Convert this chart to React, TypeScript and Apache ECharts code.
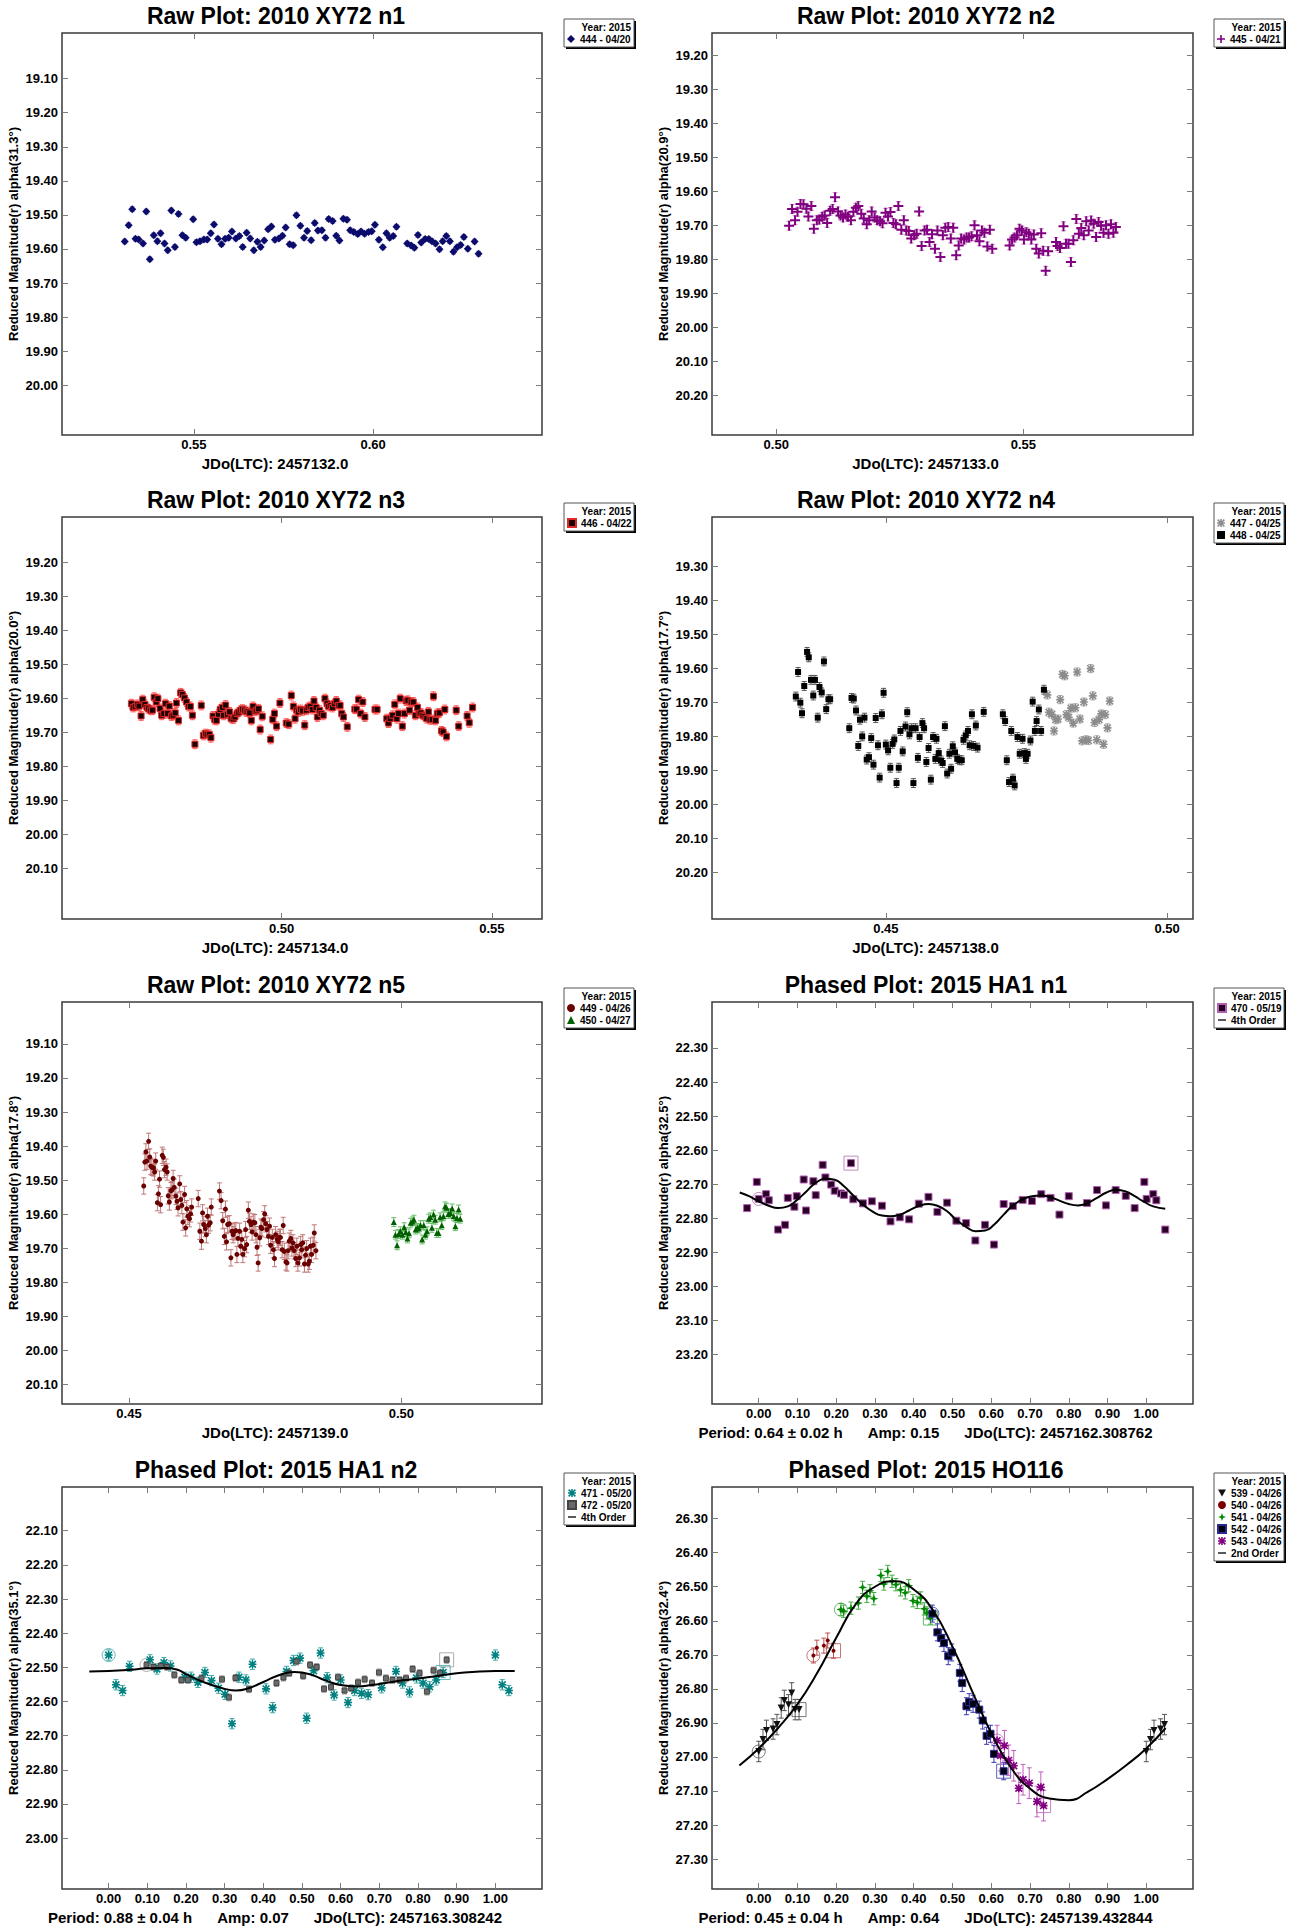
import React, { useEffect, useRef } from "react";
import * as echarts from "echarts";

const SANS = "'Liberation Sans', Arial, Helvetica, sans-serif";

// ---------------- axes (extents and tick labels) ----------------
const P1_X_RANGE = [0.5132, 0.6471];
const P1_Y_RANGE = [18.966, 20.146];
const P1_X_TICKS = [0.55, 0.6];
const P1_Y_TICKS = [19.1, 19.2, 19.3, 19.4, 19.5, 19.6, 19.7, 19.8, 19.9, 20.0];

const P2_X_RANGE = [0.487, 0.5843];
const P2_Y_RANGE = [19.134, 20.317];
const P2_X_TICKS = [0.5, 0.55];
const P2_Y_TICKS = [19.2, 19.3, 19.4, 19.5, 19.6, 19.7, 19.8, 19.9, 20.0, 20.1, 20.2];

const P3_X_RANGE = [0.4478, 0.5619];
const P3_Y_RANGE = [19.066, 20.248];
const P3_X_TICKS = [0.5, 0.55];
const P3_Y_TICKS = [19.2, 19.3, 19.4, 19.5, 19.6, 19.7, 19.8, 19.9, 20.0, 20.1];

const P4_X_RANGE = [0.4191, 0.5046];
const P4_Y_RANGE = [19.156, 20.336];
const P4_X_TICKS = [0.45, 0.5];
const P4_Y_TICKS = [19.3, 19.4, 19.5, 19.6, 19.7, 19.8, 19.9, 20.0, 20.1, 20.2];

const P5_X_RANGE = [0.4377, 0.5258];
const P5_Y_RANGE = [18.977, 20.157];
const P5_X_TICKS = [0.45, 0.5];
const P5_Y_TICKS = [19.1, 19.2, 19.3, 19.4, 19.5, 19.6, 19.7, 19.8, 19.9, 20.0, 20.1];

const PHASE_RANGE = [-0.1206, 1.1206];
const PHASE_TICKS = [0, 0.1, 0.2, 0.3, 0.4, 0.5, 0.6, 0.7, 0.8, 0.9, 1.0];

const P6_Y_RANGE = [22.165, 23.345];
const P6_Y_TICKS = [22.3, 22.4, 22.5, 22.6, 22.7, 22.8, 22.9, 23.0, 23.1, 23.2];

const P7_Y_RANGE = [21.972, 23.149];
const P7_Y_TICKS = [22.1, 22.2, 22.3, 22.4, 22.5, 22.6, 22.7, 22.8, 22.9, 23.0];

const P8_Y_RANGE = [26.207, 27.388];
const P8_Y_TICKS = [26.3, 26.4, 26.5, 26.6, 26.7, 26.8, 26.9, 27.0, 27.1, 27.2, 27.3];

// ---------------- Panel 1: 2010 XY72 n1 ----------------
const P1_X = [0.5307,0.5318,0.5328,0.5337,0.5346,0.5358,0.5367,0.5377,0.5388,0.5398,
0.5407,0.5418,0.5427,0.5437,0.5447,0.5457,0.5468,0.5477,0.5498,0.5507,
0.5517,0.5528,0.5537,0.5547,0.5556,0.5567,0.5577,0.5587,0.5597,0.5606,
0.5617,0.5627,0.5636,0.5647,0.5657,0.5667,0.5677,0.5686,0.5696,0.5707,
0.5716,0.5726,0.5737,0.5747,0.5756,0.5767,0.5777,0.5786,0.5797,0.5807,
0.5816,0.5827,0.5837,0.5846,0.5857,0.5867,0.5876,0.5887,0.5897,0.5906,
0.5917,0.5927,0.5936,0.5946,0.5957,0.5966,0.5976,0.5987,0.5996,0.6005,
0.6016,0.6027,0.6037,0.6046,0.6056,0.6065,0.6095,0.6106,0.6115,0.6125,
0.6134,0.6145,0.6155,0.6164,0.6174,0.6185,0.6194,0.6204,0.6214,0.6224,
0.6234,0.6244,0.6253,0.6264,0.6283,0.6294];
const P1_MAG = [19.578,19.530,19.483,19.570,19.572,19.584,19.490,19.630,19.560,19.577,
19.554,19.584,19.604,19.487,19.594,19.497,19.560,19.567,19.513,19.580,
19.577,19.572,19.572,19.554,19.528,19.570,19.586,19.570,19.567,19.549,
19.569,19.562,19.594,19.552,19.569,19.604,19.579,19.594,19.575,19.542,
19.534,19.573,19.569,19.561,19.537,19.586,19.589,19.501,19.532,19.567,
19.547,19.574,19.524,19.546,19.545,19.567,19.512,19.518,19.561,19.575,
19.511,19.514,19.545,19.550,19.556,19.549,19.555,19.550,19.548,19.529,
19.573,19.595,19.554,19.567,19.562,19.535,19.584,19.590,19.596,19.559,
19.581,19.571,19.571,19.577,19.584,19.601,19.577,19.562,19.577,19.608,
19.595,19.588,19.565,19.599,19.578,19.614];
const P1_ERR = 0.007;

// ---------------- Panel 2: 2010 XY72 n2 ----------------
const P2_X = [0.5026,0.5032,0.5038,0.5043,0.5049,0.5055,0.5061,0.5065,0.5071,0.5076,
0.5082,0.5087,0.5093,0.5098,0.5103,0.5109,0.5114,0.5119,0.5125,0.5130,
0.5135,0.5140,0.5145,0.5151,0.5156,0.5161,0.5166,0.5172,0.5177,0.5183,
0.5188,0.5193,0.5199,0.5204,0.5210,0.5215,0.5221,0.5226,0.5231,0.5237,
0.5242,0.5247,0.5253,0.5258,0.5263,0.5268,0.5273,0.5279,0.5284,0.5289,
0.5294,0.5300,0.5305,0.5310,0.5315,0.5321,0.5326,0.5332,0.5337,0.5342,
0.5348,0.5353,0.5358,0.5364,0.5369,0.5374,0.5380,0.5385,0.5390,0.5395,
0.5401,0.5406,0.5411,0.5416,0.5421,0.5427,0.5432,0.5437,
0.5472,0.5477,0.5482,0.5487,0.5492,0.5497,0.5501,0.5506,0.5511,0.5516,
0.5521,0.5526,0.5531,0.5536,0.5540,0.5545,0.5550,0.5566,0.5569,0.5574,
0.5581,0.5586,0.5591,0.5596,0.5601,0.5607,0.5612,0.5617,0.5622,0.5627,
0.5632,0.5637,0.5642,0.5647,0.5652,0.5657,0.5662,0.5667,0.5672,0.5677,0.5682,0.5687];
const P2_MAG = [19.701,19.652,19.685,19.660,19.637,19.638,19.651,19.674,19.643,19.710,
19.685,19.683,19.675,19.671,19.693,19.657,19.652,19.617,19.659,19.671,
19.677,19.668,19.675,19.685,19.660,19.648,19.643,19.666,19.680,19.697,
19.685,19.659,19.677,19.685,19.688,19.694,19.663,19.674,19.661,19.693,
19.697,19.643,19.713,19.685,19.715,19.717,19.739,19.729,19.725,19.659,
19.761,19.715,19.713,19.749,19.726,19.769,19.715,19.793,19.729,19.707,
19.705,19.739,19.707,19.788,19.759,19.739,19.742,19.736,19.736,19.732,
19.700,19.729,19.747,19.715,19.722,19.762,19.713,19.769,
19.759,19.742,19.736,19.729,19.710,19.715,19.742,19.720,19.725,19.742,
19.727,19.769,19.783,19.723,19.775,19.834,19.776,19.749,19.761,19.767,
19.703,19.754,19.754,19.808,19.744,19.681,19.725,19.708,19.729,19.688,
19.715,19.686,19.695,19.734,19.690,19.701,19.722,19.700,19.725,19.697,19.722,19.705];
const P2_ERR = 0.013;

// ---------------- Panel 3: 2010 XY72 n3 ----------------
const P3_X = [0.4643,0.4647,0.4652,0.4657,0.4661,0.4666,0.4670,0.4675,0.4680,0.4684,
0.4689,0.4693,0.4697,0.4702,0.4706,0.4711,0.4715,0.4720,0.4724,0.4729,
0.4733,0.4738,0.4742,0.4747,0.4750,0.4755,0.4760,0.4764,0.4769,0.4774,
0.4779,0.4783,0.4788,0.4794,0.4809,0.4814,0.4819,0.4823,0.4828,0.4832,
0.4837,0.4841,0.4845,0.4850,0.4854,0.4859,0.4862,0.4867,0.4871,0.4876,
0.4880,0.4885,0.4889,0.4894,0.4898,0.4903,0.4907,0.4912,0.4916,0.4920,
0.4924,0.4928,0.4932,0.4937,0.4941,0.4945,0.4949,0.4954,0.4974,0.4979,
0.4983,0.4988,0.4996,0.5011,0.5017,0.5023,0.5028,0.5032,0.5036,0.5040,
0.5045,0.5050,0.5055,0.5059,0.5063,0.5068,0.5073,0.5077,0.5082,0.5085,
0.5090,0.5094,0.5099,0.5103,0.5108,0.5112,0.5117,0.5121,0.5126,0.5130,
0.5135,0.5139,0.5143,0.5147,0.5156,0.5174,0.5178,0.5183,0.5188,0.5193,
0.5198,0.5222,0.5227,0.5250,0.5254,0.5258,0.5264,0.5269,0.5274,0.5278,
0.5282,0.5287,0.5292,0.5296,0.5300,0.5304,0.5308,0.5313,0.5318,0.5323,
0.5327,0.5331,0.5336,0.5341,0.5345,0.5349,0.5353,0.5358,0.5361,0.5366,
0.5370,0.5375,0.5380,0.5384,0.5388,0.5392,0.5415,0.5421,0.5441,0.5446,0.5454];
const P3_MAG = [19.615,19.626,19.623,19.617,19.622,19.651,19.603,19.617,19.626,19.630,
19.634,19.634,19.596,19.610,19.600,19.629,19.649,19.644,19.615,19.644,
19.622,19.651,19.649,19.642,19.613,19.664,19.583,19.588,19.598,19.610,
19.623,19.623,19.649,19.734,19.620,19.708,19.703,19.705,19.705,19.715,
19.651,19.662,19.664,19.646,19.632,19.626,19.649,19.619,19.646,19.639,
19.658,19.660,19.654,19.644,19.640,19.634,19.631,19.634,19.639,19.638,
19.642,19.664,19.623,19.637,19.634,19.630,19.691,19.652,19.720,19.661,
19.644,19.681,19.613,19.672,19.675,19.591,19.623,19.659,19.634,19.639,
19.632,19.636,19.678,19.634,19.626,19.623,19.632,19.607,19.626,19.654,
19.634,19.644,19.649,19.600,19.615,19.623,19.620,19.626,19.615,19.607,
19.620,19.620,19.644,19.654,19.683,19.631,19.631,19.603,19.644,19.610,
19.654,19.632,19.632,19.659,19.672,19.659,19.649,19.617,19.659,19.644,
19.600,19.681,19.644,19.607,19.605,19.634,19.610,19.610,19.649,19.626,
19.644,19.642,19.649,19.652,19.659,19.639,19.662,19.662,19.593,19.664,
19.644,19.642,19.695,19.698,19.632,19.711,19.634,19.681,19.651,19.671,19.626];
const P3_ERR = 0.013;

// ---------------- Panel 4: 2010 XY72 n4 ----------------
const P4A_X = [0.4787,0.4790,0.4795,0.4799,0.4802,0.4806,0.4810,0.4814,0.4818,0.4821,
0.4825,0.4829,0.4833,0.4837,0.4840,0.4845,0.4849,0.4852,0.4856,0.4860,
0.4864,0.4868,0.4871,0.4875,0.4879,0.4883,0.4887,0.4890,0.4894,0.4898];
const P4A_MAG = [19.678,19.729,19.735,19.784,19.751,19.749,19.692,19.618,19.622,19.736,
19.744,19.717,19.761,19.716,19.611,19.749,19.813,19.699,19.810,19.812,
19.601,19.681,19.759,19.810,19.751,19.734,19.823,19.736,19.775,19.696];
const P4A_ERR = 0.012;
const P4B_X = [0.4340,0.4344,0.4348,0.4351,0.4355,0.4360,0.4363,0.4367,0.4371,0.4374,
0.4379,0.4382,0.4386,0.4390,0.4394,0.4398,0.4401,
0.4435,0.4439,0.4443,0.4447,0.4451,0.4454,0.4458,0.4462,0.4466,0.4470,
0.4474,0.4478,0.4482,0.4486,0.4489,0.4493,0.4496,0.4500,0.4504,0.4508,
0.4512,0.4515,0.4519,0.4523,0.4526,0.4530,0.4535,0.4538,0.4542,0.4546,
0.4549,0.4553,0.4557,0.4560,0.4565,0.4568,0.4572,0.4576,0.4580,0.4584,
0.4588,0.4590,0.4594,0.4598,0.4601,0.4605,0.4609,0.4613,0.4616,0.4619,
0.4623,0.4627,0.4631,0.4635,0.4638,0.4642,0.4646,0.4649,0.4653,0.4656,
0.4660,0.4663,0.4674,
0.4708,0.4712,0.4715,0.4719,0.4723,0.4726,0.4729,0.4734,0.4738,0.4743,
0.4746,0.4749,0.4752,0.4757,0.4761,0.4765,0.4768,0.4772,0.4776,0.4781];
const P4B_MAG = [19.683,19.611,19.701,19.732,19.652,19.552,19.568,19.634,19.680,19.634,
19.745,19.655,19.671,19.580,19.720,19.691,19.691,
19.776,19.687,19.689,19.724,19.828,19.751,19.800,19.745,19.868,19.861,
19.805,19.883,19.746,19.826,19.921,19.735,19.672,19.824,19.841,19.892,
19.822,19.809,19.937,19.892,19.784,19.844,19.771,19.729,19.794,19.776,
19.937,19.776,19.863,19.802,19.761,19.776,19.875,19.834,19.927,19.802,
19.866,19.807,19.849,19.871,19.878,19.770,19.909,19.851,19.895,19.829,
19.847,19.866,19.870,19.870,19.810,19.797,19.784,19.826,19.735,19.828,
19.768,19.833,19.728,
19.735,19.755,19.870,19.934,19.784,19.924,19.944,19.802,19.851,19.807,
19.849,19.866,19.851,19.812,19.698,19.784,19.755,19.721,19.784,19.663];
const P4B_ERR = 0.013;

// ---------------- Panel 5: 2010 XY72 n5 ----------------
const P5A_X = [0.4527,0.4529,0.4531,0.4533,0.4536,0.4538,0.4540,0.4542,0.4545,0.4547,
0.4549,0.4552,0.4554,0.4556,0.4558,0.4561,0.4563,0.4565,0.4568,0.4570,
0.4572,0.4574,0.4577,0.4579,0.4581,0.4583,0.4586,0.4588,0.4590,0.4593,
0.4595,0.4597,0.4599,0.4602,0.4604,0.4606,0.4608,0.4611,0.4613,0.4615,
0.4627,0.4630,0.4633,0.4635,0.4637,0.4640,0.4642,0.4644,0.4646,0.4649,0.4651,
0.4666,0.4669,0.4672,
0.4675,0.4677,0.4679,0.4681,0.4684,0.4687,0.4689,0.4691,0.4693,0.4696,
0.4698,0.4700,0.4703,0.4705,0.4707,0.4709,0.4712,0.4714,0.4716,0.4719,
0.4721,0.4724,0.4726,0.4728,0.4731,0.4733,0.4735,0.4737,0.4740,0.4742,
0.4744,0.4747,0.4749,0.4751,0.4753,0.4756,0.4758,0.4760,0.4763,0.4765,
0.4767,0.4769,0.4772,0.4774,0.4776,0.4778,0.4781,0.4783,0.4785,0.4788,
0.4790,0.4792,0.4794,0.4797,0.4799,0.4801,0.4803,0.4806,0.4808,0.4810,
0.4813,0.4815,0.4817,0.4819,0.4822,0.4824,0.4826,0.4829,0.4831,0.4833,
0.4835,0.4838,0.4840,0.4843];
const P5A_MAG = [19.517,19.447,19.417,19.444,19.386,19.432,19.459,19.462,19.464,19.476,
19.444,19.566,19.540,19.497,19.572,19.427,19.433,19.469,19.462,19.476,
19.546,19.564,19.531,19.528,19.495,19.521,19.547,19.562,19.581,19.511,
19.557,19.574,19.623,19.542,19.640,19.584,19.606,19.613,19.599,19.579,
19.554,19.650,19.679,19.596,19.630,19.642,19.660,19.606,19.632,19.625,19.579,
19.532,19.560,19.619,
19.665,19.585,19.681,19.630,19.628,19.728,19.650,19.660,19.652,19.648,
19.718,19.671,19.650,19.694,19.674,19.718,19.701,19.645,19.689,19.588,
19.621,19.630,19.652,19.623,19.625,19.660,19.697,19.743,19.669,19.638,
19.642,19.616,19.599,19.628,19.645,19.665,19.635,19.691,19.668,19.704,
19.730,19.660,19.674,19.681,19.668,19.668,19.704,19.633,19.709,19.740,
19.743,19.707,19.679,19.671,19.699,19.684,19.707,19.730,19.694,19.743,
19.728,19.689,19.704,19.684,19.746,19.720,19.701,19.746,19.738,19.694,
19.718,19.691,19.655,19.707];
const P5A_ERR = 0.024;
const P5B_X = [0.4986,0.4989,0.4992,0.4995,0.4998,0.5002,0.5005,0.5008,0.5011,0.5014,
0.5017,0.5020,0.5023,0.5026,0.5029,0.5032,0.5035,0.5038,0.5041,0.5044,
0.5047,0.5050,0.5053,0.5056,0.5059,0.5062,0.5065,0.5068,0.5071,0.5074,
0.5077,0.5080,0.5083,0.5086,0.5090,0.5093,0.5096,0.5099,0.5102,0.5105,0.5108];
const P5B_MAG = [19.623,19.660,19.691,19.658,19.650,19.660,19.638,19.652,19.671,19.656,
19.625,19.621,19.616,19.645,19.640,19.642,19.632,19.674,19.632,19.660,
19.650,19.613,19.609,19.640,19.601,19.616,19.655,19.655,19.609,19.632,
19.606,19.577,19.581,19.599,19.596,19.583,19.606,19.635,19.611,19.586,19.613];
const P5B_ERR = 0.013;

// ---------------- Panel 6: 2015 HA1 n1 (phased) ----------------
const P6_PHASE = [-0.030,-0.005,0.000,0.019,0.026,0.050,0.068,0.075,0.092,0.098,
0.116,0.122,0.141,0.147,0.165,0.172,0.187,0.196,0.212,0.220,
0.238,0.244,0.269,0.292,0.318,0.340,0.364,0.388,0.413,0.438,
0.461,0.486,0.510,0.535,0.559,0.584,0.607,0.632,0.656,0.681,
0.705,0.729,0.753,0.776,0.800,0.847,0.873,0.896,0.921,0.947,
0.970,0.995,1.001,1.018,1.026,1.049];
const P6_MAG = [22.770,22.693,22.743,22.729,22.747,22.833,22.819,22.740,22.766,22.735,
22.686,22.777,22.691,22.732,22.643,22.680,22.701,22.719,22.727,22.731,
22.638,22.744,22.756,22.750,22.763,22.809,22.797,22.803,22.757,22.737,
22.781,22.754,22.807,22.814,22.865,22.819,22.877,22.758,22.764,22.746,
22.749,22.729,22.740,22.789,22.735,22.755,22.717,22.762,22.717,22.734,
22.770,22.693,22.743,22.729,22.747,22.833];
const P6_ERR = 0.007;
const P6_FIRST_LAST = [2, 20];
const P6_FIT_X = [-0.049,-0.025,0,0.026,0.050,0.075,0.098,0.123,0.147,0.172,
0.196,0.220,0.244,0.269,0.292,0.318,0.340,0.364,0.388,0.413,
0.438,0.461,0.486,0.510,0.535,0.559,0.584,0.607,0.632,0.656,
0.681,0.705,0.729,0.753,0.776,0.800,0.824,0.847,0.873,0.896,
0.921,0.947,0.970,0.995,1.018,1.049];
const P6_FIT_Y = [22.724,22.735,22.750,22.763,22.770,22.765,22.747,22.721,22.696,22.684,
22.687,22.706,22.733,22.760,22.779,22.792,22.794,22.789,22.777,22.764,
22.758,22.763,22.779,22.805,22.825,22.838,22.836,22.819,22.789,22.762,
22.744,22.735,22.733,22.738,22.748,22.758,22.762,22.756,22.740,22.725,
22.716,22.721,22.735,22.752,22.765,22.772];

// ---------------- Panel 7: 2015 HA1 n2 (phased) ----------------
const P7A_PHASE = [0.000,0.019,0.036,0.054,0.107,0.125,0.143,0.160,0.197,0.213,
0.231,0.249,0.266,0.284,0.301,0.319,0.337,0.355,0.372,0.407,
0.424,0.460,0.478,0.495,0.512,0.530,0.548,0.565,0.583,0.600,
0.619,0.636,0.654,0.671,0.706,0.743,0.760,0.778,0.796,0.813,
0.830,0.847,0.865,1.000,1.018,1.035];
const P7A_MAG = [22.464,22.551,22.568,22.497,22.478,22.505,22.486,22.496,22.529,22.529,
22.544,22.515,22.539,22.561,22.579,22.665,22.529,22.537,22.491,22.563,
22.618,22.512,22.480,22.473,22.649,22.510,22.458,22.530,22.581,22.537,
22.603,22.568,22.576,22.580,22.560,22.512,22.546,22.572,22.531,22.546,
22.557,22.537,22.515,22.464,22.551,22.568];
const P7A_ERR = 0.015;
const P7A_FIRST_LAST = [0, 42];
const P7B_PHASE = [0.098,0.116,0.135,0.151,0.170,0.188,0.205,0.240,0.293,0.311,
0.328,0.363,0.434,0.452,0.467,0.486,0.503,0.521,0.538,0.557,
0.575,0.593,0.610,0.627,0.645,0.662,0.681,0.699,0.717,0.734,
0.752,0.769,0.786,0.804,0.823,0.840,0.857,0.874];
const P7B_MAG = [22.493,22.499,22.496,22.499,22.522,22.537,22.537,22.532,22.535,22.588,
22.531,22.564,22.546,22.530,22.517,22.483,22.525,22.493,22.499,22.563,
22.558,22.529,22.568,22.561,22.544,22.535,22.546,22.515,22.532,22.537,
22.537,22.532,22.505,22.517,22.571,22.509,22.517,22.478];
const P7B_ERR = 0.01;
const P7B_FIRST_LAST = [0, 37];
const P7_FIT_X = [-0.05,0.00,0.05,0.10,0.15,0.18,0.20,0.25,0.30,0.33,0.36,0.40,0.44,0.48,
0.52,0.56,0.60,0.64,0.68,0.72,0.76,0.80,0.84,0.88,0.92,0.96,1.00,1.05];
const P7_FIT_Y = [22.512,22.511,22.508,22.503,22.502,22.508,22.520,22.545,22.563,22.568,22.562,22.543,22.523,22.514,
22.520,22.538,22.552,22.556,22.552,22.545,22.538,22.533,22.527,22.520,22.515,22.512,22.511,22.511];

// ---------------- Panel 8: 2015 HO116 (phased) ----------------
const P8A_PHASE = [0.000,0.011,0.020,0.037,0.047,0.058,0.066,0.077,0.085,0.094,0.104,1.000,1.011,1.020,1.037,1.047];
const P8A_MAG = [26.984,26.949,26.922,26.918,26.905,26.856,26.834,26.847,26.812,26.861,26.861,26.984,26.949,26.922,26.918,26.905];
const P8A_ERR = 0.03;
const P8A_FIRST_LAST = [0, 10];
const P8B_PHASE = [0.141,0.150,0.168,0.178,0.193];
const P8B_MAG = [26.702,26.679,26.673,26.658,26.688];
const P8B_ERR = 0.022;
const P8B_FIRST_LAST = [0, 4];
const P8C_PHASE = [0.212,0.219,0.238,0.257,0.268,0.279,0.287,0.297,0.315,0.323,0.333,0.344,0.354,0.366,0.378,0.387,0.398,0.409,0.418,0.427,0.434,0.443];
const P8C_MAG = [26.567,26.572,26.563,26.548,26.502,26.528,26.512,26.535,26.467,26.492,26.455,26.484,26.494,26.509,26.518,26.497,26.541,26.546,26.533,26.565,26.577,26.592];
const P8C_ERR = 0.018;
const P8C_FIRST_LAST = [0, 21];
const P8D_PHASE = [0.448,0.461,0.471,0.478,0.489,0.498,0.519,0.525,0.536,0.543,0.553,0.569,0.578,0.588,0.598,0.607,0.632];
const P8D_MAG = [26.579,26.634,26.651,26.665,26.704,26.693,26.753,26.783,26.851,26.839,26.844,26.861,26.893,26.938,26.932,26.991,27.042];
const P8D_ERR = 0.025;
const P8D_FIRST_LAST = [0, 16];
const P8E_PHASE = [0.615,0.624,0.634,0.645,0.658,0.671,0.682,0.698,0.718,0.728,0.735];
const P8E_MAG = [26.952,26.996,26.967,27.010,27.026,27.092,27.067,27.077,27.131,27.089,27.143];
const P8E_ERR = 0.045;
const P8E_FIRST_LAST = [0, 10];
const P8_FIT_X = [-0.05,0,0.05,0.10,0.15,0.20,0.25,0.30,0.35,0.40,0.45,0.50,0.55,0.60,0.65,0.70,0.75,0.80,0.85,0.90,0.95,1.00,1.05];
const P8_FIT_Y = [27.025,26.975,26.915,26.845,26.755,26.650,26.552,26.500,26.484,26.508,26.570,26.676,26.805,26.930,27.030,27.093,27.122,27.127,27.102,27.065,27.023,26.975,26.915];

// ---------------- symbols ----------------
const PLUS = "path://M4,0H6V4H10V6H6V10H4V6H0V4H4Z";
const ASTER = "path://M4,0H6V4H10V6H6V10H4V6H0V4H4Z M1.5,0.1L5,3.6L8.5,0.1L9.9,1.5L6.4,5L9.9,8.5L8.5,9.9L5,6.4L1.5,9.9L0.1,8.5L3.6,5L0.1,1.5Z";
const DOWN = "path://M0,0L10,0L5,9Z";
const STAR4 = "path://M5,0L6.3,3.7L10,5L6.3,6.3L5,10L3.7,6.3L0,5L3.7,3.7Z";
const LINE_ICON = "path://M0,0H16V2.6H0Z";

type Obs = {
  name: string; x: number[]; y: number[]; err: number; symbol: string; size: number;
  color: string; errColor: string; border?: string; firstLast?: number[];
};
type Panel = {
  title: string; xName: string; yName: string; xRange: number[]; yRange: number[];
  xTicks: number[]; yTicks: number[]; obs: Obs[]; fit?: { name: string; x: number[]; y: number[] };
};

const NB = "\u00a0\u00a0\u00a0\u00a0\u00a0\u00a0";

const PANELS: Panel[] = [
  {
    title: "Raw Plot: 2010 XY72 n1", xName: "JDo(LTC): 2457132.0", yName: "Reduced Magnitude(r) alpha(31.3°)",
    xRange: P1_X_RANGE, yRange: P1_Y_RANGE, xTicks: P1_X_TICKS, yTicks: P1_Y_TICKS,
    obs: [{ name: "444 - 04/20", x: P1_X, y: P1_MAG, err: P1_ERR, symbol: "diamond", size: 8, color: "#0b0b6b", errColor: "#9a9ad6" }],
  },
  {
    title: "Raw Plot: 2010 XY72 n2", xName: "JDo(LTC): 2457133.0", yName: "Reduced Magnitude(r) alpha(20.9°)",
    xRange: P2_X_RANGE, yRange: P2_Y_RANGE, xTicks: P2_X_TICKS, yTicks: P2_Y_TICKS,
    obs: [{ name: "445 - 04/21", x: P2_X, y: P2_MAG, err: P2_ERR, symbol: PLUS, size: 10, color: "#800080", errColor: "#cc90cc" }],
  },
  {
    title: "Raw Plot: 2010 XY72 n3", xName: "JDo(LTC): 2457134.0", yName: "Reduced Magnitude(r) alpha(20.0°)",
    xRange: P3_X_RANGE, yRange: P3_Y_RANGE, xTicks: P3_X_TICKS, yTicks: P3_Y_TICKS,
    obs: [{ name: "446 - 04/22", x: P3_X, y: P3_MAG, err: P3_ERR, symbol: "rect", size: 6, color: "#1c0000", border: "#e02828", errColor: "#ff5a5a" }],
  },
  {
    title: "Raw Plot: 2010 XY72 n4", xName: "JDo(LTC): 2457138.0", yName: "Reduced Magnitude(r) alpha(17.7°)",
    xRange: P4_X_RANGE, yRange: P4_Y_RANGE, xTicks: P4_X_TICKS, yTicks: P4_Y_TICKS,
    obs: [
      { name: "447 - 04/25", x: P4A_X, y: P4A_MAG, err: P4A_ERR, symbol: ASTER, size: 8, color: "#8c8c8c", errColor: "#b0b0b0" },
      { name: "448 - 04/25", x: P4B_X, y: P4B_MAG, err: P4B_ERR, symbol: "rect", size: 6, color: "#000000", errColor: "#555555" },
    ],
  },
  {
    title: "Raw Plot: 2010 XY72 n5", xName: "JDo(LTC): 2457139.0", yName: "Reduced Magnitude(r) alpha(17.8°)",
    xRange: P5_X_RANGE, yRange: P5_Y_RANGE, xTicks: P5_X_TICKS, yTicks: P5_Y_TICKS,
    obs: [
      { name: "449 - 04/26", x: P5A_X, y: P5A_MAG, err: P5A_ERR, symbol: "circle", size: 5, color: "#6b0000", errColor: "#c07878" },
      { name: "450 - 04/27", x: P5B_X, y: P5B_MAG, err: P5B_ERR, symbol: "triangle", size: 6, color: "#006000", errColor: "#66c066" },
    ],
  },
  {
    title: "Phased Plot: 2015 HA1 n1", xName: "Period: 0.64 ± 0.02 h" + NB + "Amp: 0.15" + NB + "JDo(LTC): 2457162.308762",
    yName: "Reduced Magnitude(r) alpha(32.5°)",
    xRange: PHASE_RANGE, yRange: P6_Y_RANGE, xTicks: PHASE_TICKS, yTicks: P6_Y_TICKS,
    obs: [{ name: "470 - 05/19", x: P6_PHASE, y: P6_MAG, err: P6_ERR, symbol: "rect", size: 7, color: "#2a0028", border: "#b060b0", errColor: "#b070b0", firstLast: P6_FIRST_LAST }],
    fit: { name: "4th Order", x: P6_FIT_X, y: P6_FIT_Y },
  },
  {
    title: "Phased Plot: 2015 HA1 n2", xName: "Period: 0.88 ± 0.04 h" + NB + "Amp: 0.07" + NB + "JDo(LTC): 2457163.308242",
    yName: "Reduced Magnitude(r) alpha(35.1°)",
    xRange: PHASE_RANGE, yRange: P7_Y_RANGE, xTicks: PHASE_TICKS, yTicks: P7_Y_TICKS,
    obs: [
      { name: "471 - 05/20", x: P7A_PHASE, y: P7A_MAG, err: P7A_ERR, symbol: ASTER, size: 8, color: "#008080", errColor: "#40a8a8", firstLast: P7A_FIRST_LAST },
      { name: "472 - 05/20", x: P7B_PHASE, y: P7B_MAG, err: P7B_ERR, symbol: "rect", size: 5, color: "#6a6a6a", border: "#444444", errColor: "#9a9a9a", firstLast: P7B_FIRST_LAST },
    ],
    fit: { name: "4th Order", x: P7_FIT_X, y: P7_FIT_Y },
  },
  {
    title: "Phased Plot: 2015 HO116", xName: "Period: 0.45 ± 0.04 h" + NB + "Amp: 0.64" + NB + "JDo(LTC): 2457139.432844",
    yName: "Reduced Magnitude(r) alpha(32.4°)",
    xRange: PHASE_RANGE, yRange: P8_Y_RANGE, xTicks: PHASE_TICKS, yTicks: P8_Y_TICKS,
    obs: [
      { name: "539 - 04/26", x: P8A_PHASE, y: P8A_MAG, err: P8A_ERR, symbol: DOWN, size: 7, color: "#111111", errColor: "#555555", firstLast: P8A_FIRST_LAST },
      { name: "540 - 04/26", x: P8B_PHASE, y: P8B_MAG, err: P8B_ERR, symbol: "circle", size: 4, color: "#7a0000", errColor: "#b85050", firstLast: P8B_FIRST_LAST },
      { name: "541 - 04/26", x: P8C_PHASE, y: P8C_MAG, err: P8C_ERR, symbol: STAR4, size: 9, color: "#008800", errColor: "#44aa44", firstLast: P8C_FIRST_LAST },
      { name: "542 - 04/26", x: P8D_PHASE, y: P8D_MAG, err: P8D_ERR, symbol: "rect", size: 7, color: "#000010", border: "#2a2a90", errColor: "#3a3ab0", firstLast: P8D_FIRST_LAST },
      { name: "543 - 04/26", x: P8E_PHASE, y: P8E_MAG, err: P8E_ERR, symbol: ASTER, size: 8, color: "#800080", errColor: "#c060c0", firstLast: P8E_FIRST_LAST },
    ],
    fit: { name: "2nd Order", x: P8_FIT_X, y: P8_FIT_Y },
  },
];

// ---------------- layout ----------------
const COL_LEFT = [62, 712];
const COL_WIDTH = [480, 481];
const ROW_TOP = [33, 517, 1002, 1487];
const PLOT_H = 402;
const TITLE_CX = [276, 926];
const BOX_X = [564, 1214];
const BOX_W = 70;
const LINE_H = 12;

const errRender = (color: string) => (params: any, api: any) => {
  const x = api.value(0);
  const y = api.value(1);
  const e = api.value(2);
  const p1 = api.coord([x, y - e]);
  const p2 = api.coord([x, y + e]);
  const c = 2.5;
  const style = { stroke: color, lineWidth: 1 };
  return {
    type: "group",
    children: [
      { type: "line", shape: { x1: p1[0], y1: p1[1], x2: p2[0], y2: p2[1] }, style },
      { type: "line", shape: { x1: p1[0] - c, y1: p1[1], x2: p1[0] + c, y2: p1[1] }, style },
      { type: "line", shape: { x1: p2[0] - c, y1: p2[1], x2: p2[0] + c, y2: p2[1] }, style },
    ],
  };
};

function buildOption() {
  const grid: any[] = [];
  const xAxis: any[] = [];
  const yAxis: any[] = [];
  const series: any[] = [];
  const legend: any[] = [];
  const graphic: any[] = [];
  const tickStyle = { color: "#7a7a7a", width: 1 };
  const labelFont = { color: "#000", fontFamily: SANS, fontWeight: "bold", fontSize: 13 };
  const fmt = (v: number) => v.toFixed(2);
  const noLine = { show: false, onZero: false };

  PANELS.forEach((p, i) => {
    const col = i % 2;
    const row = Math.floor(i / 2);
    const top = ROW_TOP[row];
    grid.push({
      left: COL_LEFT[col], top, width: COL_WIDTH[col], height: PLOT_H,
      show: true, borderColor: "#3a3a3a", borderWidth: 1.5, backgroundColor: "transparent",
      containLabel: false, outerBoundsMode: "none",
    });
    xAxis.push({
      type: "value", gridIndex: i, position: "bottom", min: p.xRange[0], max: p.xRange[1],
      axisLine: noLine, splitLine: { show: false },
      axisTick: { show: true, inside: true, length: 6, customValues: p.xTicks, lineStyle: tickStyle },
      axisLabel: { show: true, customValues: p.xTicks, formatter: fmt, margin: 3, ...labelFont },
      name: p.xName, nameLocation: "middle", nameGap: 21,
      nameTextStyle: { color: "#000", fontFamily: SANS, fontWeight: "bold", fontSize: 15, padding: [0, 54, 0, 0] },
    });
    xAxis.push({
      type: "value", gridIndex: i, position: "top", min: p.xRange[0], max: p.xRange[1],
      axisLine: noLine, splitLine: { show: false },
      axisTick: { show: true, inside: true, length: 6, customValues: p.xTicks, lineStyle: tickStyle },
      axisLabel: { show: false },
    });
    yAxis.push({
      type: "value", gridIndex: i, position: "left", inverse: true, min: p.yRange[0], max: p.yRange[1],
      axisLine: noLine, splitLine: { show: false },
      axisTick: { show: true, inside: true, length: 6, customValues: p.yTicks, lineStyle: tickStyle },
      axisLabel: { show: true, customValues: p.yTicks, formatter: fmt, margin: 4, ...labelFont },
      name: p.yName, nameLocation: "middle", nameGap: 42, nameRotate: 90,
      nameTextStyle: { color: "#000", fontFamily: SANS, fontWeight: "bold", fontSize: 13 },
    });
    yAxis.push({
      type: "value", gridIndex: i, position: "right", inverse: true, min: p.yRange[0], max: p.yRange[1],
      axisLine: noLine, splitLine: { show: false },
      axisTick: { show: true, inside: true, length: 6, customValues: p.yTicks, lineStyle: tickStyle },
      axisLabel: { show: false },
    });

    const xi = 2 * i;
    p.obs.forEach((s) => {
      const pts = s.x.map((x, k) => [x, s.y[k]]).filter((d) => d[1] !== undefined);
      series.push({
        type: "custom", name: s.name + " error", xAxisIndex: xi, yAxisIndex: xi, silent: true, clip: true, z: 2,
        data: pts.map((d) => [d[0], d[1], s.err]), encode: { x: 0, y: 1 }, renderItem: errRender(s.errColor),
      });
      series.push({
        type: "scatter", name: s.name, xAxisIndex: xi, yAxisIndex: xi, silent: true, z: 3,
        data: pts, symbol: s.symbol, symbolSize: s.size, emphasis: { disabled: true },
        itemStyle: { color: s.color, borderColor: s.border || s.color, borderWidth: s.border ? 1 : 0, opacity: 1 },
      });
      if (s.firstLast) {
        const a = s.firstLast[0];
        const b = s.firstLast[1];
        series.push({
          type: "scatter", name: s.name + " first", xAxisIndex: xi, yAxisIndex: xi, silent: true, z: 1,
          data: [[s.x[a], s.y[a]]], symbol: "circle", symbolSize: 13, emphasis: { disabled: true },
          itemStyle: { color: "rgba(0,0,0,0)", borderColor: s.errColor, borderWidth: 1 },
        });
        series.push({
          type: "scatter", name: s.name + " last", xAxisIndex: xi, yAxisIndex: xi, silent: true, z: 1,
          data: [[s.x[b], s.y[b]]], symbol: "rect", symbolSize: 14, emphasis: { disabled: true },
          itemStyle: { color: "rgba(0,0,0,0)", borderColor: s.errColor, borderWidth: 1 },
        });
      }
    });
    if (p.fit) {
      const f = p.fit;
      series.push({
        type: "line", name: f.name, xAxisIndex: xi, yAxisIndex: xi, silent: true, z: 4,
        data: f.x.map((x, k) => [x, f.y[k]]), smooth: true, showSymbol: false, symbol: "none",
        lineStyle: { color: "#000", width: 2 }, itemStyle: { color: "#000" }, emphasis: { disabled: true },
      });
    }

    // title
    graphic.push({
      type: "text", x: TITLE_CX[col], y: top - 17, z: 2,
      style: { text: p.title, fill: "#000", fontFamily: SANS, fontWeight: "bold", fontSize: 23, align: "center", verticalAlign: "middle" },
    });
    // legend box
    const legendData: any[] = p.obs.map((s) => ({ name: s.name }));
    if (p.fit) legendData.push({ name: p.fit.name, icon: LINE_ICON, itemStyle: { color: "#000", borderWidth: 0 } });
    const bx = BOX_X[col];
    const by = top - 14;
    const bh = LINE_H * (legendData.length + 1) + 4;
    graphic.push({ type: "rect", z: 0, shape: { x: bx + 2, y: by + 2, width: BOX_W, height: bh }, style: { fill: "#000" } });
    graphic.push({ type: "rect", z: 1, shape: { x: bx, y: by, width: BOX_W, height: bh }, style: { fill: "#fff", stroke: "#555", lineWidth: 1 } });
    graphic.push({
      type: "text", x: bx + BOX_W - 3, y: by + 8, z: 2,
      style: { text: "Year: 2015", fill: "#000", fontFamily: SANS, fontWeight: "bold", fontSize: 10, align: "right", verticalAlign: "middle" },
    });
    legend.push({
      left: bx + 3, top: by + 14, orient: "vertical", itemWidth: 8, itemHeight: 8, itemGap: 0, padding: 0,
      selectedMode: false, data: legendData,
      textStyle: { fontFamily: SANS, fontWeight: "bold", fontSize: 10, color: "#000", lineHeight: 12 },
    });
  });

  return {
    animation: false,
    backgroundColor: "#fff",
    grid, xAxis, yAxis, series, legend,
    graphic: { elements: graphic },
  };
}

export default function App() {
  const ref = useRef<HTMLDivElement>(null);
  useEffect(() => {
    if (!ref.current) return;
    const chart = echarts.init(ref.current, undefined, { renderer: "svg" });
    chart.setOption(buildOption() as any);
    return () => chart.dispose();
  }, []);
  return (
    <div
      ref={ref}
      style={{ position: "absolute", left: 0, top: 0, width: 1297, height: 1928, background: "#fff" }}
    />
  );
}
